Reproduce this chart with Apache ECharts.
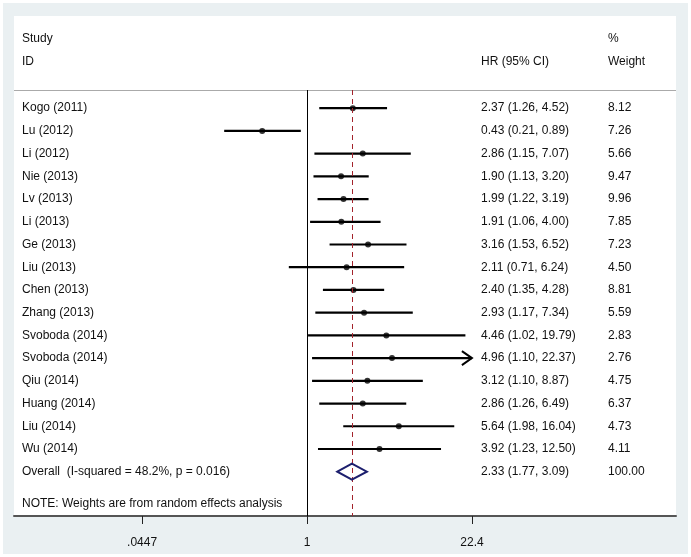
<!DOCTYPE html>
<html><head><meta charset="utf-8">
<script src="https://cdn.jsdelivr.net/npm/echarts@6/dist/echarts.min.js"></script>
<style>html,body{margin:0;padding:0;background:#fff}#c{width:691px;height:557px}</style>
</head><body><div id="c"></div>
<script>
const studies = ['Kogo (2011)','Lu (2012)','Li (2012)','Nie (2013)','Lv (2013)','Li (2013)','Ge (2013)','Liu (2013)','Chen (2013)','Zhang (2013)','Svoboda (2014)','Svoboda (2014)','Qiu (2014)','Huang (2014)','Liu (2014)','Wu (2014)'];
const hr = [2.37,0.43,2.86,1.90,1.99,1.91,3.16,2.11,2.40,2.93,4.46,4.96,3.12,2.86,5.64,3.92];
const ciLow = [1.26,0.21,1.15,1.13,1.22,1.06,1.53,0.71,1.35,1.17,1.02,1.10,1.10,1.26,1.98,1.23];
const ciHigh = [4.52,0.89,7.07,3.20,3.19,4.00,6.52,6.24,4.28,7.34,19.79,22.37,8.87,6.49,16.04,12.50];
const weights = [8.12,7.26,5.66,9.47,9.96,7.85,7.23,4.50,8.81,5.59,2.83,2.76,4.75,6.37,4.73,4.11];
const ciArrow = [false,false,false,false,false,false,false,false,false,false,false,true,false,false,false,false];
const overallLabel = 'Overall  (I-squared = 48.2%, p = 0.016)';
const overallHR = 2.33, overallLow = 1.77, overallHigh = 3.09, overallWeight = 100.00;
const noteText = 'NOTE: Weights are from random effects analysis';
const xTickValues = [0.0447, 1, 22.4];
const xTickLabels = ['.0447', '1', '22.4'];

const FONT = 'Liberation Sans, Arial, sans-serif';
const TXT = '#111';
const chart = echarts.init(document.getElementById('c'));
const n = studies.length;
const fmt = v => v.toFixed(2);

const ciData = studies.map((s, i) => [ciLow[i], ciHigh[i], i, ciArrow[i] ? 1 : 0]);
const pointData = studies.map((s, i) => [hr[i], i]);
const textRows = studies.map((s, i) => ({ value: [hr[i], i], name: s, hrText: fmt(hr[i]) + ' (' + fmt(ciLow[i]) + ', ' + fmt(ciHigh[i]) + ')', w: fmt(weights[i]) }));
textRows.push({ value: [overallHR, n], name: overallLabel, hrText: fmt(overallHR) + ' (' + fmt(overallLow) + ', ' + fmt(overallHigh) + ')', w: fmt(overallWeight) });

function txt(text, x, y, align) {
  return { type: 'text', style: { text, x, y, fill: TXT, fontSize: 12, fontFamily: FONT, align: align || 'left', verticalAlign: 'middle' } };
}

const option = {
  backgroundColor: '#fff',
  animation: false,
  graphic: [
    { type: 'rect', z: -10, shape: { x: 3, y: 3, width: 685, height: 551 }, style: { fill: '#eaf0f2' } },
    { type: 'rect', z: -9, shape: { x: 14, y: 16, width: 662, height: 500 }, style: { fill: '#fff' } },
    { type: 'line', z: 1, shape: { x1: 14, y1: 90.5, x2: 676, y2: 90.5 }, style: { stroke: '#aaaaaa', lineWidth: 1 } },
    Object.assign(txt('Study', 22, 39), { z: 5 }),
    Object.assign(txt('ID', 22, 62), { z: 5 }),
    Object.assign(txt('HR (95% CI)', 481, 62), { z: 5 }),
    Object.assign(txt('%', 608, 39), { z: 5 }),
    Object.assign(txt('Weight', 608, 62), { z: 5 }),
    Object.assign(txt(noteText, 22, 504), { z: 5 })
  ],
  grid: { left: 14, right: 15, top: 90, bottom: 41 },
  xAxis: {
    type: 'log', logBase: 10,
    min: Math.pow(10, -2.398), max: Math.pow(10, 3.02),
    axisLine: { show: true, onZero: false, lineStyle: { color: '#555', width: 2 } },
    axisTick: { show: true, length: 8, customValues: xTickValues, lineStyle: { color: '#222', width: 1 } },
    axisLabel: { customValues: xTickValues, margin: 21, fontSize: 12, fontFamily: FONT, color: TXT,
      formatter: v => { const k = xTickValues.findIndex(t => Math.abs(Math.log(t) - Math.log(v)) < 0.01); return k >= 0 ? xTickLabels[k] : ''; } },
    splitLine: { show: false }, minorTick: { show: false }
  },
  yAxis: { type: 'value', inverse: true, min: -0.8, max: 17.95, show: false, splitLine: { show: false } },
  series: [
    {
      type: 'scatter', data: pointData, symbolSize: 6, itemStyle: { color: '#000' }, z: 4, silent: true,
      markLine: {
        silent: true, symbol: ['none', 'none'], label: { show: false },
        data: [
          { xAxis: 1, lineStyle: { color: '#000', width: 1, type: 'solid' } },
          { xAxis: overallHR, lineStyle: { color: '#a3232c', width: 1, type: [5, 4] } }
        ]
      }
    },
    {
      type: 'custom', data: ciData, encode: { x: [0, 1], y: 2 }, z: 3, silent: true,
      renderItem: function (params, api) {
        const y = api.value(2);
        const p1 = api.coord([api.value(0), y]);
        const p2 = api.coord([api.value(1), y]);
        const children = [{ type: 'line', shape: { x1: p1[0], y1: p1[1], x2: p2[0], y2: p2[1] }, style: { stroke: '#000', lineWidth: 2.2 } }];
        if (api.value(3)) {
          children.push({ type: 'polyline', shape: { points: [[p2[0] - 10, p2[1] - 7], [p2[0], p2[1]], [p2[0] - 10, p2[1] + 7]] }, style: { stroke: '#000', lineWidth: 2, fill: null } });
        }
        return { type: 'group', children };
      }
    },
    {
      type: 'custom', data: [[overallLow, overallHR, overallHigh, n]], encode: { x: [0, 1, 2], y: 3 }, z: 5, silent: true,
      renderItem: function (params, api) {
        const y = api.value(3);
        const l = api.coord([api.value(0), y]);
        const c = api.coord([api.value(1), y]);
        const r = api.coord([api.value(2), y]);
        const h = 8;
        return { type: 'polygon', shape: { points: [[l[0], l[1]], [c[0], c[1] - h], [r[0], r[1]], [c[0], c[1] + h]] }, style: { fill: 'rgba(255,255,255,0)', stroke: '#1d1f6e', lineWidth: 2 } };
      }
    },
    {
      type: 'custom', data: textRows, encode: { x: 0, y: 1 }, z: 6, silent: true, clip: false,
      renderItem: function (params, api) {
        const row = textRows[params.dataIndex];
        const p = api.coord([api.value(0), api.value(1)]);
        const x0 = params.coordSys.x;
        return { type: 'group', children: [txt(row.name, x0 + 8, p[1]), txt(row.hrText, x0 + 467, p[1]), txt(row.w, x0 + 594, p[1])] };
      }
    }
  ]
};
chart.setOption(option);
</script></body></html>
